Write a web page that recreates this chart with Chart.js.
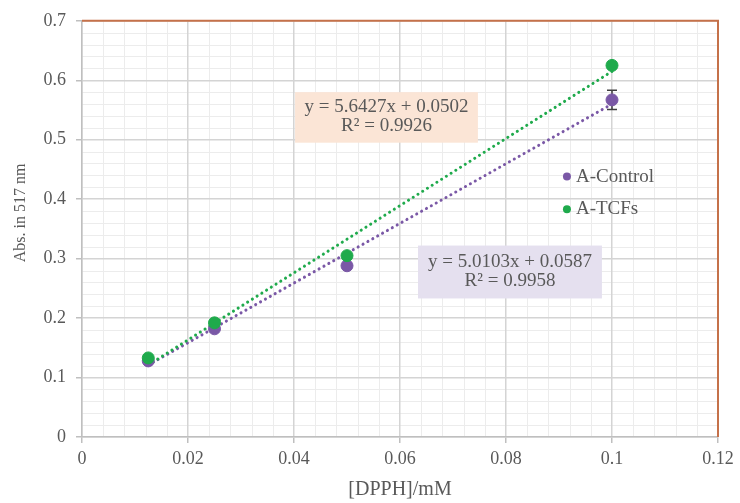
<!DOCTYPE html>
<html>
<head>
<meta charset="utf-8">
<script src="https://cdn.jsdelivr.net/npm/chart.js@4.4.0/dist/chart.umd.min.js"></script>
<style>
    html, body { margin: 0; padding: 0; background: #fff; }
    #wrap { width: 740px; height: 503px; position: relative; }
</style>
</head>
<body>
<div id="wrap"><canvas id="grafico"></canvas></div>
<script>
// dados
const concentracoes = [0.0125, 0.025, 0.05, 0.1];
const absControl = [0.128, 0.182, 0.288, 0.567];
const erroControl = [0, 0, 0, 0.016];
const absTCFs = [0.133, 0.192, 0.305, 0.625];
const tendenciaX = [0.0125, 0.1];
const tendenciaControl = [0.121, 0.560];
const tendenciaTCFs = [0.121, 0.615];
const equacaoControl = ['y = 5.0103x + 0.0587', 'R² = 0.9958'];
const equacaoTCFs = ['y = 5.6427x + 0.0502', 'R² = 0.9926'];
const ticksX = [0, 0.02, 0.04, 0.06, 0.08, 0.1, 0.12];
const ticksY = [0, 0.1, 0.2, 0.3, 0.4, 0.5, 0.6, 0.7];

const roxo = '#7a58a6';
const verde = '#1faa4c';
const cinzaTexto = '#595959';
const fonteSerif = '"Liberation Serif", "Times New Roman", serif';

const pontos = (xs, ys) => xs.map((x, i) => ({ x: x, y: ys[i] }));

const gradeMenor = {
    id: 'gradeMenor',
    beforeDraw(chart) {
        const { ctx, chartArea: a, scales: { x, y } } = chart;
        ctx.save();
        ctx.strokeStyle = '#ececec';
        ctx.lineWidth = 1;
        for (let i = 0; i < ticksX.length - 1; i++) {
            const passo = (ticksX[i + 1] - ticksX[i]) / 5;
            for (let k = 1; k < 5; k++) {
                const px = Math.round(x.getPixelForValue(ticksX[i] + k * passo)) + 0.5;
                ctx.beginPath(); ctx.moveTo(px, a.top); ctx.lineTo(px, a.bottom); ctx.stroke();
            }
        }
        for (let i = 0; i < ticksY.length - 1; i++) {
            const passo = (ticksY[i + 1] - ticksY[i]) / 5;
            for (let k = 1; k < 5; k++) {
                const py = Math.round(y.getPixelForValue(ticksY[i] + k * passo)) + 0.5;
                ctx.beginPath(); ctx.moveTo(a.left, py); ctx.lineTo(a.right, py); ctx.stroke();
            }
        }
        ctx.restore();
    }
};

const extras = {
    id: 'extras',
    beforeDatasetsDraw(chart) {
        const { ctx, chartArea: a, scales: { x, y } } = chart;
        ctx.save();
        // borda superior e direita
        ctx.strokeStyle = '#c5714a';
        ctx.lineWidth = 2;
        ctx.beginPath();
        ctx.moveTo(a.left, a.top); ctx.lineTo(a.right, a.top); ctx.lineTo(a.right, a.bottom);
        ctx.stroke();

        // caixas das equações
        const caixas = [
            { x0: 0.0402, x1: 0.0747, y0: 0.580, y1: 0.495, cor: '#fbe5d6', linhas: equacaoTCFs },
            { x0: 0.0634, x1: 0.0981, y0: 0.322, y1: 0.233, cor: '#e5e0ef', linhas: equacaoControl }
        ];
        caixas.forEach(c => {
            const l = x.getPixelForValue(c.x0), r = x.getPixelForValue(c.x1);
            const t = y.getPixelForValue(c.y0), b = y.getPixelForValue(c.y1);
            ctx.fillStyle = c.cor;
            ctx.fillRect(l, t, r - l, b - t);
            ctx.fillStyle = cinzaTexto;
            ctx.font = '19px ' + fonteSerif;
            ctx.textAlign = 'center';
            ctx.textBaseline = 'middle';
            const cx = (l + r) / 2, cy = (t + b) / 2;
            ctx.fillText(c.linhas[0], cx, cy - 10);
            ctx.fillText(c.linhas[1], cx, cy + 9);
        });

        // barras de erro
        ctx.strokeStyle = '#404040';
        ctx.lineWidth = 1.5;
        concentracoes.forEach((c, i) => {
            if (!erroControl[i]) return;
            const px = x.getPixelForValue(c);
            const pt = y.getPixelForValue(absControl[i] + erroControl[i]);
            const pb = y.getPixelForValue(absControl[i] - erroControl[i]);
            ctx.beginPath();
            ctx.moveTo(px, pt); ctx.lineTo(px, pb);
            ctx.moveTo(px - 5, pt); ctx.lineTo(px + 5, pt);
            ctx.moveTo(px - 5, pb); ctx.lineTo(px + 5, pb);
            ctx.stroke();
        });
        ctx.restore();
    },
    afterDraw(chart) {
        const { ctx, scales: { x, y } } = chart;
        ctx.save();
        const itens = [
            { label: chart.data.datasets[0].label, cor: roxo, yv: 0.438 },
            { label: chart.data.datasets[1].label, cor: verde, yv: 0.383 }
        ];
        const px = x.getPixelForValue(0.0915);
        itens.forEach(it => {
            const py = y.getPixelForValue(it.yv);
            ctx.fillStyle = it.cor;
            ctx.beginPath(); ctx.arc(px, py, 4, 0, Math.PI * 2); ctx.fill();
            ctx.fillStyle = cinzaTexto;
            ctx.font = '19px ' + fonteSerif;
            ctx.textAlign = 'left';
            ctx.textBaseline = 'middle';
            ctx.fillText(it.label, px + 9, py);
        });
        ctx.restore();
    }
};

new Chart(document.getElementById('grafico'), {
    type: 'scatter',
    data: {
        datasets: [
            {
                label: 'A-Control',
                data: pontos(concentracoes, absControl),
                backgroundColor: roxo, borderColor: roxo,
                pointRadius: 6, order: 1
            },
            {
                label: 'A-TCFs',
                data: pontos(concentracoes, absTCFs),
                backgroundColor: verde, borderColor: verde,
                pointRadius: 6, order: 0
            },
            {
                label: 'Linear (A-Control)',
                type: 'line',
                data: pontos(tendenciaX, tendenciaControl),
                borderColor: roxo, borderWidth: 3,
                borderDash: [0.1, 5.5], borderCapStyle: 'round',
                pointRadius: 0, fill: false, order: 3
            },
            {
                label: 'Linear (A-TCFs)',
                type: 'line',
                data: pontos(tendenciaX, tendenciaTCFs),
                borderColor: verde, borderWidth: 3,
                borderDash: [0.1, 5.5], borderCapStyle: 'round',
                pointRadius: 0, fill: false, order: 2
            }
        ]
    },
    options: {
        responsive: true,
        maintainAspectRatio: false,
        animation: false,
        layout: { padding: { left: 0, right: 22, top: 18, bottom: 0 } },
        plugins: {
            legend: { display: false },
            tooltip: { enabled: false }
        },
        scales: {
            x: {
                type: 'linear', min: 0, max: 0.12,
                afterBuildTicks: s => { s.ticks = ticksX.map(v => ({ value: v })); },
                afterFit: s => { s.height = 66; },
                grid: { color: '#d4d4d4', lineWidth: 1.5, tickLength: 6, tickColor: '#bfbfbf' },
                border: { color: '#bfbfbf', width: 1.5 },
                ticks: {
                    color: cinzaTexto, padding: 5,
                    font: { family: fonteSerif, size: 18 },
                    callback: v => String(v)
                },
                title: {
                    display: true, text: '[DPPH]/mM', color: cinzaTexto,
                    font: { family: fonteSerif, size: 20 },
                    padding: { top: 0, bottom: 1 }
                }
            },
            y: {
                type: 'linear', min: 0, max: 0.7,
                afterBuildTicks: s => { s.ticks = ticksY.map(v => ({ value: v })); },
                afterFit: s => { s.width = 82; },
                grid: { color: '#d4d4d4', lineWidth: 1.5, tickLength: 6, tickColor: '#bfbfbf' },
                border: { color: '#bfbfbf', width: 1.5 },
                ticks: {
                    color: cinzaTexto, padding: 10,
                    font: { family: fonteSerif, size: 18 },
                    callback: v => String(v)
                },
                title: {
                    display: true, text: '        Abs. in 517 nm', color: cinzaTexto,
                    font: { family: fonteSerif, size: 16 },
                    padding: { top: 11, bottom: 0 }
                }
            }
        }
    },
    plugins: [gradeMenor, extras]
});
</script>
</body>
</html>
